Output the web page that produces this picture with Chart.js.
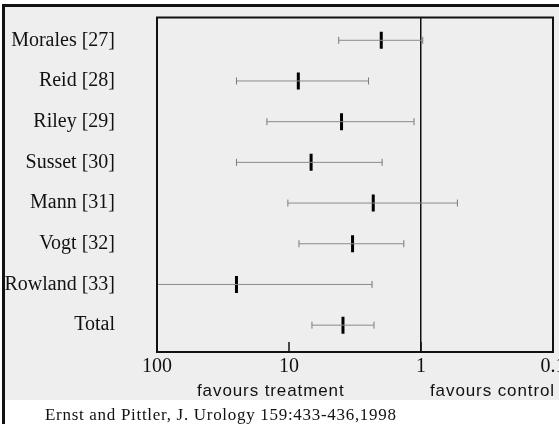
<!DOCTYPE html>
<html>
<head>
<meta charset="utf-8">
<script src="https://cdn.jsdelivr.net/npm/chart.js@4.4.1/dist/chart.umd.min.js"></script>
<style>
  html, body { margin:0; padding:0; width:559px; height:424px; overflow:hidden; background:#fff; }
  #frame { position:absolute; left:2px; top:4px; width:620px; height:500px; border-left:3px solid #111; border-top:3px solid #111; }
  #gray { position:absolute; left:5px; top:7px; width:620px; height:393px; background:#eeeeee; }
  #wrap { position:absolute; left:3px; top:6px; width:580px; height:394px; }
  .note { position:absolute; font-family:"Liberation Sans", Arial, sans-serif; font-size:17px; letter-spacing:0.9px; color:#111; white-space:nowrap; }
  #cap { position:absolute; left:45px; top:405px; font-family:"Liberation Serif", "Times New Roman", serif; font-size:17px; letter-spacing:0.7px; color:#111; white-space:nowrap; }
</style>
</head>
<body>
<div id="gray"></div>
<div id="frame"></div>
<div id="wrap"><canvas id="c" width="580" height="394"></canvas></div>
<div class="note" style="left:197px; top:381px;">favours treatment</div>
<div class="note" style="left:430px; top:381px;">favours control</div>
<div id="cap">Ernst and Pittler, J. Urology 159:433-436,1998</div>
<script>
const studies = ["Morales [27]", "Reid [28]", "Riley [29]", "Susset [30]", "Mann [31]", "Vogt [32]", "Rowland [33]", "Total"];
const estimates = [2.0, 8.5, 4.0, 6.8, 2.3, 3.3, 25, 3.9];
const lowerCI = [4.2, 25, 14.7, 25, 10.2, 8.4, 100, 6.7];
const upperCI = [0.97, 2.5, 1.13, 1.97, 0.53, 1.35, 2.35, 2.27];
const xTicks = [100, 10, 1, 0.1];
const xTickLabels = ["100", "10", "1", "0.1"];

const whiskerData = [];
const capData = [];
studies.forEach((s, i) => {
  whiskerData.push({x: lowerCI[i], y: i}, {x: upperCI[i], y: i}, {x: null, y: null});
  capData.push({x: lowerCI[i], y: i}, {x: upperCI[i], y: i});
});
const estData = estimates.map((v, i) => ({x: v, y: i}));

const frameBox = {
  id: 'frameBox',
  afterDraw(chart) {
    const {ctx, chartArea: a} = chart;
    const xs = chart.scales.x;
    ctx.save();
    ctx.strokeStyle = '#111';
    ctx.lineWidth = 2;
    ctx.strokeRect(a.left, a.top, a.right - a.left, a.bottom - a.top);
    ctx.lineWidth = 1.5;
    xTicks.forEach(v => {
      const px = xs.getPixelForValue(v);
      ctx.beginPath();
      ctx.moveTo(px, a.bottom);
      ctx.lineTo(px, a.bottom - 10);
      ctx.stroke();
    });
    ctx.restore();
  }
};

new Chart(document.getElementById('c'), {
  type: 'scatter',
  data: {
    datasets: [
      {
        data: whiskerData, showLine: true, spanGaps: false,
        borderColor: '#8a8a8a', borderWidth: 1, pointRadius: 0
      },
      {
        data: capData, showLine: false,
        pointStyle: 'line', rotation: 90, pointRadius: 3.5,
        pointBorderWidth: 1, pointBorderColor: '#777', borderColor: '#777'
      },
      {
        data: estData, showLine: false,
        pointStyle: 'line', rotation: 90, pointRadius: 8.5,
        pointBorderWidth: 3, pointBorderColor: '#000', borderColor: '#000'
      }
    ]
  },
  options: {
    responsive: false,
    animation: false,
    events: [],
    layout: { padding: { top: 9, right: 30, left: 0, bottom: 0 } },
    plugins: { legend: { display: false }, tooltip: { enabled: false } },
    scales: {
      x: {
        type: 'logarithmic', min: 0.1, max: 100, reverse: true,
        afterBuildTicks: ax => { ax.ticks = xTicks.map(v => ({value: v})); },
        afterFit: ax => { ax.height = 48; },
        border: { display: false },
        grid: {
          drawTicks: false, lineWidth: 1.5,
          color: c => (c.tick && c.tick.value === 1) ? '#111' : 'rgba(0,0,0,0)'
        },
        ticks: {
          padding: 3, color: '#111', maxRotation: 0, autoSkip: false,
          font: { family: '"Liberation Serif", "Times New Roman", serif', size: 20 },
          callback: (v, i) => xTickLabels[i]
        }
      },
      y: {
        type: 'linear', min: -0.56, max: 7.66, reverse: true,
        afterBuildTicks: ax => { ax.ticks = studies.map((s, i) => ({value: i})); },
        afterFit: ax => { ax.width = 154; ax.paddingTop = 0; ax.paddingBottom = 0; },
        border: { display: false },
        grid: { display: false, drawTicks: false },
        ticks: {
          padding: 42, color: '#111', autoSkip: false,
          font: { family: '"Liberation Serif", "Times New Roman", serif', size: 20 },
          callback: (v) => studies[v]
        }
      }
    }
  },
  plugins: [frameBox]
});
</script>
</body>
</html>
